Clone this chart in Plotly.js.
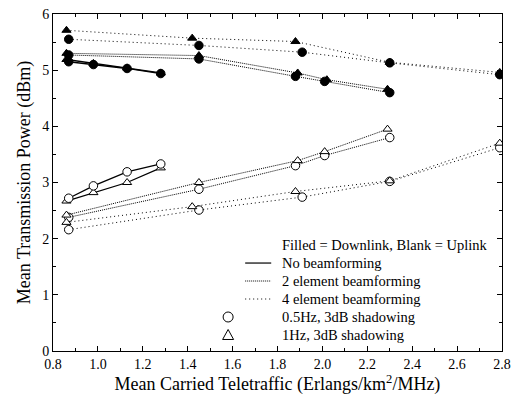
<!DOCTYPE html>
<html><head><meta charset="utf-8">
<script src="https://cdn.plot.ly/plotly-3.0.1.min.js"></script>
<style>html,body{margin:0;padding:0;background:#fff}#c{width:517px;height:397px}</style>
</head><body><div id="c"></div>
<script>
// No beamforming
const nbX_dl_c = [0.87, 0.98, 1.13, 1.28];
const nbY_dl_c = [5.15, 5.10, 5.03, 4.94];
const nbX_dl_t = [0.86, 0.98, 1.13, 1.28];
const nbY_dl_t = [5.19, 5.12, 5.04, 4.95];
const nbX_ul_c = [0.87, 0.98, 1.13, 1.28];
const nbY_ul_c = [2.72, 2.94, 3.19, 3.33];
const nbX_ul_t = [0.86, 0.98, 1.13, 1.28];
const nbY_ul_t = [2.67, 2.82, 3.00, 3.26];
// 2 element beamforming
const b2X_dl_c = [0.87, 1.45, 1.88, 2.01, 2.30];
const b2Y_dl_c = [5.27, 5.20, 4.89, 4.80, 4.60];
const b2X_dl_t = [0.86, 1.45, 1.89, 2.02, 2.29];
const b2Y_dl_t = [5.30, 5.26, 4.95, 4.83, 4.66];
const b2X_ul_c = [0.87, 1.45, 1.88, 2.01, 2.30];
const b2Y_ul_c = [2.38, 2.88, 3.30, 3.48, 3.80];
const b2X_ul_t = [0.86, 1.45, 1.89, 2.01, 2.29];
const b2Y_ul_t = [2.42, 3.00, 3.39, 3.55, 3.95];
// 4 element beamforming
const b4X_dl_c = [0.87, 1.45, 1.91, 2.30, 2.79];
const b4Y_dl_c = [5.55, 5.44, 5.32, 5.13, 4.92];
const b4X_dl_t = [0.86, 1.42, 1.88, 2.30, 2.79];
const b4Y_dl_t = [5.71, 5.57, 5.51, 5.14, 4.96];
const b4X_ul_c = [0.87, 1.45, 1.91, 2.30, 2.79];
const b4Y_ul_c = [2.16, 2.51, 2.74, 3.02, 3.62];
const b4X_ul_t = [0.86, 1.42, 1.88, 2.30, 2.79];
const b4Y_ul_t = [2.29, 2.57, 2.84, 3.03, 3.70];

const xTicks = [0.8, 1.0, 1.2, 1.4, 1.6, 1.8, 2.0, 2.2, 2.4, 2.6, 2.8];
const xTickText = ["0.8","1.0","1.2","1.4","1.6","1.8","2.0","2.2","2.4","2.6","2.8"];
const yTicks = [0, 1, 2, 3, 4, 5, 6];

const legendRows = ["Filled = Downlink, Blank = Uplink", "No beamforming", "2 element beamforming",
  "4 element beamforming", "0.5Hz, 3dB shadowing", "1Hz, 3dB shadowing"];

const DASH_SOLID = 'solid', DASH_2 = '1px,1px', DASH_4 = '1px,3px';
function tr(x, y, dash, sym, filled, w) {
  return {x: x, y: y, type: 'scatter', mode: 'lines+markers',
    line: {color: '#000', width: w || 1, dash: dash},
    marker: {symbol: sym, size: sym === 'circle' ? 8.5 : 8, color: filled ? '#000' : '#fff',
      line: {color: '#000', width: 1}},
    showlegend: false, hoverinfo: 'skip'};
}
const data = [
  tr(b2X_dl_c, b2Y_dl_c, DASH_2, 'circle', true),
  tr(b2X_dl_t, b2Y_dl_t, DASH_2, 'triangle-up', true),
  tr(b4X_dl_c, b4Y_dl_c, DASH_4, 'circle', true),
  tr(b4X_dl_t, b4Y_dl_t, DASH_4, 'triangle-up', true),
  tr(b2X_ul_c, b2Y_ul_c, DASH_2, 'circle', false),
  tr(b2X_ul_t, b2Y_ul_t, DASH_2, 'triangle-up', false),
  tr(b4X_ul_c, b4Y_ul_c, DASH_4, 'circle', false),
  tr(b4X_ul_t, b4Y_ul_t, DASH_4, 'triangle-up', false),
  tr(nbX_dl_t, nbY_dl_t, DASH_SOLID, 'triangle-up', true, 1.3),
  tr(nbX_dl_c, nbY_dl_c, DASH_SOLID, 'circle', true, 1.3),
  tr(nbX_ul_t, nbY_ul_t, DASH_SOLID, 'triangle-up', false, 1.3),
  tr(nbX_ul_c, nbY_ul_c, DASH_SOLID, 'circle', false, 1.3)
];

const FONT = 'Liberation Serif, Times New Roman, serif';
const rowY = [0.3145, 0.261, 0.2077, 0.1543, 0.1009, 0.0475];
const annotations = legendRows.map((t, i) => ({
  text: t, xref: 'paper', yref: 'paper', x: 0.5056, y: rowY[i], xanchor: 'left', yanchor: 'middle',
  showarrow: false, font: {family: FONT, size: 14.5, color: '#000'}
}));
const shapes = [
  {type: 'line', xref: 'paper', yref: 'paper', x0: 0.428, x1: 0.486, y0: rowY[1], y1: rowY[1], line: {color: '#000', width: 1.2}},
  {type: 'line', xref: 'paper', yref: 'paper', x0: 0.428, x1: 0.486, y0: rowY[2], y1: rowY[2], line: {color: '#000', width: 1, dash: DASH_2}},
  {type: 'line', xref: 'paper', yref: 'paper', x0: 0.428, x1: 0.486, y0: rowY[3], y1: rowY[3], line: {color: '#000', width: 1, dash: DASH_4}},
  {type: 'circle', xref: 'paper', yref: 'paper', xsizemode: 'pixel', ysizemode: 'pixel',
   xanchor: 0.39, yanchor: rowY[4], x0: -5, x1: 5, y0: -5, y1: 5, line: {color: '#000', width: 1}},
  {type: 'path', xref: 'paper', yref: 'paper', xsizemode: 'pixel', ysizemode: 'pixel',
   xanchor: 0.39, yanchor: rowY[5], path: 'M -5.5 -4.5 L 5.5 -4.5 L 0 5.5 Z', line: {color: '#000', width: 1}}
];

const axisCommon = {showline: true, linecolor: '#000', linewidth: 1, mirror: 'ticks', ticks: 'inside',
  ticklen: 5, tickcolor: '#000', showgrid: false, zeroline: false,
  tickfont: {family: FONT, size: 14, color: '#000'}};
const layout = {
  width: 517, height: 397, margin: {l: 53, r: 15, t: 14, b: 46},
  paper_bgcolor: '#fff', plot_bgcolor: '#fff', showlegend: false,
  xaxis: Object.assign({}, axisCommon, {range: [0.8, 2.8], tickvals: xTicks, ticktext: xTickText,
    minor: {ticks: 'inside', dtick: 0.1, ticklen: 3, tickcolor: '#000'},
    title: {text: 'Mean Carried Teletraffic (Erlangs/km<sup>2</sup>/MHz)', font: {family: FONT, size: 18, color: '#000'}, standoff: 2}}),
  yaxis: Object.assign({}, axisCommon, {range: [0, 6], tickvals: yTicks,
    minor: {ticks: 'inside', dtick: 0.5, ticklen: 3, tickcolor: '#000'},
    title: {text: 'Mean Transmission Power (dBm)', font: {family: FONT, size: 18, color: '#000'}, standoff: 6}}),
  annotations: annotations, shapes: shapes
};
Plotly.newPlot('c', data, layout, {staticPlot: true, displayModeBar: false});
</script></body></html>
